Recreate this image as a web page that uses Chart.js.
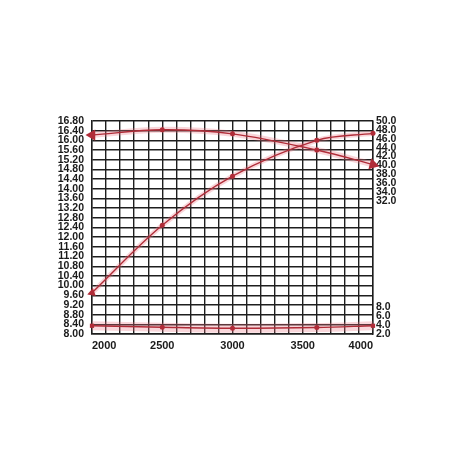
<!DOCTYPE html>
<html>
<head>
<meta charset="utf-8">
<script src="https://cdn.jsdelivr.net/npm/chart.js@4/dist/chart.umd.min.js"></script>
<style>
  html, body { margin: 0; padding: 0; background: #fff; }
  #wrap { width: 452px; height: 452px; }
</style>
</head>
<body>
<div id="wrap"><canvas id="myChart" width="452" height="452"></canvas></div>
<script>
// engine speed (rpm) at the marked points
const rpm = [2000, 2500, 3000, 3600, 4000];
// upper curve (left scale)
const torque = [16.22, 16.44, 16.27, 15.60, 15.00];
// rising curve (left scale)
const power = [9.70, 12.49, 14.52, 16.00, 16.29];
// low flat curve (left scale)
const consumption = [8.34, 8.28, 8.24, 8.27, 8.34];

const xTicks = [2000, 2500, 3000, 3500, 4000];
const rightTicksLow = [2, 4, 6, 8];
const rightTicksHigh = [32, 34, 36, 38, 40, 42, 44, 46, 48, 50];

const RED = '#b02c38';
const GLOW = 'rgba(236, 120, 132, 0.30)';
const FONT = '"Liberation Sans Narrow", "Liberation Sans", Arial';

const pts = (ys) => rpm.map((x, i) => ({ x, y: ys[i] }));

const curve = (ys, styles, radii, rotations) => ({
    data: pts(ys),
    borderColor: RED,
    backgroundColor: RED,
    borderWidth: 1.4,
    tension: 0.35,
    pointStyle: styles,
    pointRadius: radii,
    pointRotation: rotations,
    pointBorderWidth: 0,
    clip: false,
    yAxisID: 'y',
    order: 1
});

const glow = (ys, width) => ({
    data: pts(ys),
    borderColor: GLOW,
    borderWidth: width,
    tension: 0.35,
    pointRadius: 0,
    yAxisID: 'y',
    order: 2
});

const fixWidth = (w) => (scale) => { scale.width = w; };

const config = {
    type: 'line',
    data: {
        datasets: [
            glow(torque, 6),
            glow(power, 5),
            glow(consumption, 9),
            curve(torque,
                ['triangle', 'circle', 'circle', 'circle', 'triangle'],
                [6.5, 2.5, 2.5, 2.5, 6.5],
                [270, 0, 0, 0, 105]),
            curve(power,
                ['triangle', 'circle', 'circle', 'circle', 'circle'],
                [5, 2.5, 2.5, 2.5, 2.5],
                [250, 0, 0, 0, 0]),
            curve(consumption,
                ['rect', 'circle', 'circle', 'circle', 'rect'],
                [3, 2.5, 2.5, 2.5, 3],
                [0, 0, 0, 0, 0])
        ]
    },
    options: {
        responsive: false,
        animation: false,
        layout: { padding: { left: 0, right: 0, top: 121, bottom: 98 } },
        plugins: {
            legend: { display: false },
            tooltip: { enabled: false }
        },
        scales: {
            x: {
                type: 'linear',
                min: 2000,
                max: 4000,
                afterFit: (scale) => { scale.height = 20; },
                border: { display: true, color: '#1e1e1e', width: 1.4 },
                grid: { color: '#1e1e1e', lineWidth: 1.4, drawTicks: false },
                ticks: {
                    stepSize: 100,
                    autoSkip: false,
                    maxRotation: 0,
                    align: 'inner',
                    padding: 5,
                    color: '#1a1a1a',
                    font: { family: FONT, size: 11, weight: 'bold' },
                    callback: (v) => xTicks.includes(v) ? String(v) : ''
                }
            },
            y: {
                position: 'left',
                min: 8,
                max: 16.8,
                afterFit: fixWidth(92),
                border: { display: true, color: '#1e1e1e', width: 1.4 },
                grid: { color: '#1e1e1e', lineWidth: 1.4, drawTicks: false },
                ticks: {
                    stepSize: 0.4,
                    autoSkip: false,
                    padding: 8,
                    color: '#1a1a1a',
                    font: { family: FONT, size: 10.5, weight: 'bold' },
                    callback: (v) => v.toFixed(2)
                }
            },
            y2: {
                position: 'right',
                min: 2,
                max: 50,
                afterFit: fixWidth(79),
                border: { display: true, color: '#1e1e1e', width: 1.4 },
                grid: { display: false, drawTicks: false },
                ticks: {
                    stepSize: 2,
                    autoSkip: false,
                    padding: 3,
                    color: '#1a1a1a',
                    font: { family: FONT, size: 10.5, weight: 'bold' },
                    callback: (v) => {
                        const n = Math.round(v);
                        return (rightTicksLow.includes(n) || rightTicksHigh.includes(n)) ? n.toFixed(1) : '';
                    }
                }
            }
        }
    }
};

new Chart(document.getElementById('myChart'), config);
</script>
</body>
</html>
